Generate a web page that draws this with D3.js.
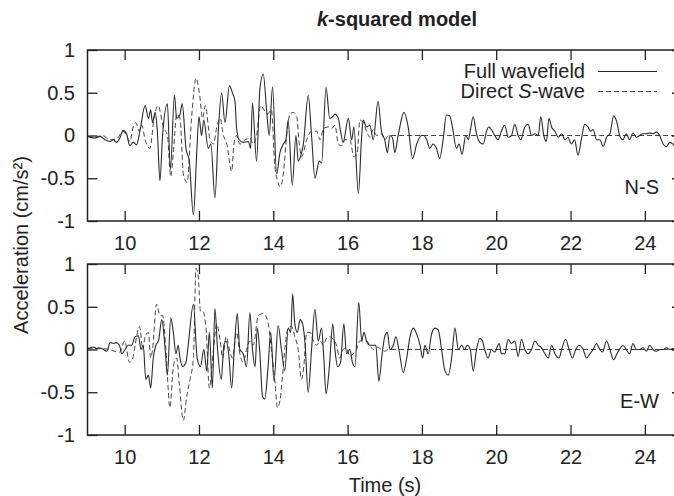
<!DOCTYPE html>
<html>
<head>
<meta charset="utf-8">
<script src="https://cdn.jsdelivr.net/npm/d3@7"></script>
<style>
  body { margin: 0; background: #fff; }
  text { font-family: "Liberation Sans", Arial, Helvetica, sans-serif; fill: #222; }
</style>
</head>
<body>
<svg id="chart"></svg>
<script>
// tick values and labels
var xTicks = [10, 12, 14, 16, 18, 20, 22, 24];
var yTicks = [-1, -0.5, 0, 0.5, 1];

// N-S component, [time (s), acceleration (cm/s2)]
var nsFull = [
  [9.0,-0.01],[9.07,-0.02],[9.2,-0.03],[9.34,-0.01],[9.47,-0.05],[9.61,-0.07],[9.7,-0.05],[9.78,-0.08],
  [9.87,-0.03],[9.96,0.06],[10.05,0.02],[10.14,-0.12],[10.23,-0.08],[10.32,-0.11],[10.41,0.05],[10.55,0.35],
  [10.64,0.2],[10.7,0.3],[10.75,0.15],[10.82,0.27],[10.88,0.05],[10.95,-0.53],[11.02,0.0],[11.15,0.37],
  [11.23,-0.4],[11.34,0.47],[11.4,0.2],[11.49,0.25],[11.55,0.37],[11.65,-0.15],[11.74,-0.3],[11.85,-0.93],
  [11.94,-0.2],[12.0,0.22],[12.07,0.0],[12.13,0.18],[12.25,-0.15],[12.32,-0.1],[12.43,-0.73],[12.52,0.05],
  [12.61,0.5],[12.7,0.15],[12.82,0.58],[12.9,0.5],[12.97,0.4],[13.01,0.1],[13.08,-0.05],[13.19,-0.08],
  [13.33,-0.07],[13.39,-0.15],[13.44,0.38],[13.55,-0.3],[13.64,0.55],[13.73,0.72],[13.82,0.3],[13.89,0.0],
  [13.98,0.57],[14.09,-0.45],[14.18,-0.2],[14.27,-0.1],[14.34,-0.05],[14.4,0.18],[14.51,-0.58],[14.61,0.0],
  [14.67,-0.3],[14.73,-0.25],[14.81,-0.1],[14.94,0.47],[15.03,0.0],[15.12,-0.5],[15.24,-0.3],[15.3,-0.32],
  [15.42,0.56],[15.52,0.2],[15.6,0.22],[15.66,0.25],[15.75,0.2],[15.81,0.05],[15.88,-0.08],[16.02,0.2],
  [16.11,-0.05],[16.17,0.1],[16.29,-0.68],[16.38,0.0],[16.42,0.18],[16.51,0.1],[16.6,0.12],[16.69,-0.05],
  [16.82,0.4],[16.91,0.05],[17.0,-0.05],[17.07,-0.2],[17.14,0.0],[17.21,-0.03],[17.27,-0.2],[17.36,0.0],
  [17.52,0.27],[17.63,0.1],[17.75,-0.27],[17.86,-0.1],[17.99,0.0],[18.05,0.0],[18.13,-0.05],[18.21,-0.15],
  [18.3,-0.1],[18.39,-0.15],[18.48,-0.27],[18.57,-0.05],[18.66,0.24],[18.75,0.23],[18.82,0.1],[18.93,-0.15],
  [19.0,-0.1],[19.08,-0.22],[19.18,0.0],[19.25,-0.05],[19.3,0.05],[19.38,0.22],[19.47,0.02],[19.56,-0.08],
  [19.65,-0.1],[19.74,0.05],[19.8,0.1],[19.87,0.07],[19.96,0.0],[20.05,-0.05],[20.14,0.05],[20.23,0.12],
  [20.32,-0.02],[20.41,0.0],[20.5,0.13],[20.59,0.0],[20.66,-0.05],[20.77,0.1],[20.86,0.13],[20.95,0.0],
  [21.04,0.02],[21.13,0.0],[21.2,0.22],[21.28,0.0],[21.35,-0.07],[21.42,0.2],[21.49,0.1],[21.58,0.05],
  [21.67,-0.02],[21.76,0.02],[21.85,-0.05],[21.93,-0.02],[22.02,-0.1],[22.11,-0.05],[22.2,-0.23],[22.29,-0.05],
  [22.38,0.13],[22.47,0.1],[22.54,0.05],[22.61,0.07],[22.7,-0.05],[22.79,-0.05],[22.88,-0.13],[22.97,-0.02],
  [23.06,0.02],[23.16,0.23],[23.25,0.15],[23.32,0.0],[23.41,-0.05],[23.5,0.02],[23.59,-0.05],[23.68,0.03],
  [23.77,-0.02],[23.86,0.0],[23.95,0.02],[24.04,0.02],[24.13,0.03],[24.22,0.02],[24.31,0.04],[24.4,0.0],
  [24.49,-0.1],[24.58,-0.13],[24.67,-0.08],[24.76,-0.1],[24.85,-0.15],[24.95,-0.05]
];
var nsDirect = [
  [9.0,-0.01],[9.2,-0.02],[9.4,0.0],[9.61,-0.05],[9.78,-0.04],[9.96,0.05],[10.05,0.0],[10.14,-0.07],
  [10.23,0.1],[10.3,0.15],[10.39,0.05],[10.46,0.12],[10.55,-0.05],[10.68,-0.15],[10.79,0.2],[10.9,0.35],
  [11.04,0.1],[11.15,0.0],[11.24,-0.48],[11.31,-0.2],[11.4,0.25],[11.49,0.2],[11.58,-0.45],[11.68,-0.55],
  [11.8,0.2],[11.92,0.67],[12.01,0.5],[12.1,0.2],[12.17,0.35],[12.3,-0.05],[12.39,-0.1],[12.48,0.1],
  [12.57,0.2],[12.66,0.0],[12.75,-0.1],[12.88,-0.42],[12.94,-0.1],[13.01,0.0],[13.1,-0.1],[13.24,-0.05],
  [13.37,-0.03],[13.46,-0.1],[13.55,0.0],[13.66,0.35],[13.75,0.3],[13.84,0.25],[13.95,0.3],[14.04,-0.35],
  [14.13,-0.55],[14.18,-0.6],[14.27,-0.45],[14.36,0.0],[14.45,0.25],[14.54,0.27],[14.63,0.22],[14.7,-0.1],
  [14.76,-0.25],[14.9,-0.05],[15.03,0.05],[15.17,0.05],[15.26,-0.05],[15.35,0.08],[15.48,0.1],[15.57,0.08],
  [15.66,0.12],[15.75,-0.1],[15.84,-0.12],[15.93,-0.05],[16.06,-0.05],[16.17,-0.25],[16.26,-0.2],[16.33,0.18],
  [16.42,0.15],[16.51,0.05],[16.6,-0.02],[16.69,0.07],[16.78,0.0],[16.91,0.02],[17.0,-0.05],[17.1,0.0],
  [25.0,0.0]
];

// E-W component
var ewFull = [
  [9.0,0.01],[9.16,0.03],[9.25,0.01],[9.29,0.02],[9.43,0.0],[9.52,-0.02],[9.61,0.08],[9.7,0.07],
  [9.77,0.08],[9.86,0.05],[9.92,-0.05],[10.01,0.0],[10.1,0.05],[10.19,0.05],[10.28,0.15],[10.37,0.16],
  [10.44,0.0],[10.5,0.05],[10.57,-0.35],[10.64,-0.3],[10.7,-0.45],[10.77,-0.1],[10.84,0.05],[10.91,0.1],
  [11.0,0.35],[11.09,0.0],[11.15,-0.3],[11.24,0.37],[11.31,0.2],[11.38,-0.05],[11.44,0.05],[11.49,-0.1],
  [11.56,-0.2],[11.65,-0.15],[11.71,0.05],[11.85,0.53],[11.95,-0.1],[12.04,-0.2],[12.13,0.0],[12.21,-0.25],
  [12.28,0.2],[12.36,-0.45],[12.43,0.48],[12.5,0.0],[12.6,-0.35],[12.67,0.05],[12.73,0.1],[12.8,-0.05],
  [12.88,-0.45],[12.95,0.0],[13.03,0.42],[13.1,0.0],[13.19,-0.05],[13.28,-0.2],[13.37,0.43],[13.44,0.0],
  [13.51,-0.2],[13.57,0.25],[13.64,-0.05],[13.71,-0.55],[13.77,-0.58],[13.86,-0.2],[13.93,0.2],[14.02,-0.37],
  [14.13,0.28],[14.22,0.0],[14.31,-0.25],[14.4,0.25],[14.47,0.2],[14.52,0.65],[14.58,0.3],[14.65,0.2],
  [14.72,0.35],[14.79,0.3],[14.85,0.1],[14.94,-0.5],[15.03,0.0],[15.12,0.47],[15.21,0.1],[15.3,0.25],
  [15.36,-0.1],[15.42,-0.52],[15.51,-0.2],[15.6,0.3],[15.66,0.0],[15.73,-0.2],[15.81,-0.15],[15.9,0.3],
  [15.97,-0.05],[16.06,0.0],[16.13,-0.15],[16.2,-0.2],[16.3,0.55],[16.38,0.1],[16.44,0.2],[16.51,0.1],
  [16.6,0.05],[16.69,0.05],[16.76,0.05],[16.84,-0.37],[16.93,-0.05],[17.0,0.15],[17.07,0.2],[17.14,0.0],
  [17.23,0.05],[17.3,0.15],[17.38,0.0],[17.5,-0.27],[17.59,-0.1],[17.68,0.15],[17.77,0.25],[17.86,0.18],
  [17.95,0.05],[18.02,-0.1],[18.08,0.05],[18.17,-0.05],[18.26,0.18],[18.35,0.25],[18.44,0.23],[18.53,0.0],
  [18.62,-0.25],[18.71,-0.3],[18.8,-0.1],[18.89,0.25],[18.98,0.0],[19.07,0.05],[19.15,0.0],[19.22,0.05],
  [19.3,0.0],[19.38,-0.25],[19.47,0.0],[19.56,0.13],[19.63,0.1],[19.69,0.0],[19.78,-0.1],[19.87,0.0],
  [19.96,-0.03],[20.08,0.07],[20.14,-0.05],[20.23,-0.05],[20.32,0.12],[20.41,0.07],[20.5,0.1],[20.59,-0.08],
  [20.68,0.12],[20.77,0.0],[20.86,-0.05],[20.95,0.0],[21.04,0.1],[21.13,0.05],[21.22,0.02],[21.31,-0.05],
  [21.4,-0.1],[21.49,0.05],[21.58,-0.05],[21.69,-0.1],[21.76,0.0],[21.87,0.12],[21.96,0.0],[22.05,-0.1],
  [22.14,0.0],[22.23,0.05],[22.34,0.0],[22.43,-0.1],[22.52,-0.05],[22.61,0.0],[22.7,0.07],[22.79,0.0],
  [22.86,-0.03],[22.97,0.1],[23.06,0.0],[23.16,-0.12],[23.25,-0.05],[23.32,0.0],[23.41,0.05],[23.5,0.0],
  [23.59,-0.05],[23.68,0.07],[23.77,0.0],[23.86,0.0],[23.95,0.02],[24.04,-0.02],[24.13,0.05],[24.22,0.0],
  [24.31,-0.02],[24.4,0.0],[24.49,0.0],[24.58,0.02],[24.67,0.0],[24.76,0.01],[24.9,0.02],[25.0,0.0]
];
var ewDirect = [
  [9.0,0.01],[9.3,0.01],[9.6,0.0],[9.72,-0.02],[9.87,-0.03],[10.0,0.1],[10.13,-0.15],[10.22,-0.1],
  [10.28,0.05],[10.4,0.27],[10.49,0.0],[10.55,0.15],[10.64,0.2],[10.7,-0.1],[10.75,0.0],[10.86,0.53],
  [10.95,0.4],[11.02,0.4],[11.11,0.0],[11.22,-0.68],[11.31,-0.2],[11.4,-0.1],[11.47,-0.4],[11.58,-0.83],
  [11.67,-0.55],[11.76,-0.35],[11.85,-0.1],[11.92,0.95],[11.98,0.85],[12.04,0.45],[12.1,0.45],[12.19,0.25],
  [12.28,-0.45],[12.39,0.0],[12.48,0.3],[12.57,0.1],[12.64,-0.1],[12.73,0.15],[12.82,0.0],[12.9,-0.1],
  [13.01,0.2],[13.1,-0.05],[13.19,-0.15],[13.28,0.0],[13.37,0.1],[13.46,0.05],[13.6,0.4],[13.73,0.42],
  [13.84,0.35],[13.95,0.0],[14.05,-0.4],[14.11,-0.68],[14.18,-0.6],[14.25,-0.3],[14.31,0.0],[14.4,0.25],
  [14.49,0.27],[14.58,0.15],[14.67,0.0],[14.76,-0.35],[14.82,-0.2],[14.9,0.2],[14.99,0.2],[15.08,0.1],
  [15.17,0.05],[15.26,0.1],[15.35,0.05],[15.43,0.13],[15.52,0.15],[15.61,0.12],[15.7,0.05],[15.79,-0.1],
  [15.88,0.0],[15.97,0.02],[16.06,-0.08],[16.15,-0.05],[16.24,0.0],[16.33,0.1],[16.42,0.1],[16.51,0.1],
  [16.6,0.05],[16.69,0.0],[16.78,0.03],[16.91,0.0],[17.0,-0.02],[17.1,0.0],[25.0,0.0]
];

// set the dimensions
var width = 674, height = 496;
var left = 87.5, right = 682;

var svg = d3.select("#chart")
    .attr("width", width)
    .attr("height", height);

svg.append("rect").attr("width", width).attr("height", height).attr("fill", "#fff");

var x = d3.scaleLinear().domain([9, 25]).range([left, right]);

var panels = [
  {name: "N-S", top: 50, bottom: 221, full: nsFull, direct: nsDirect},
  {name: "E-W", top: 264, bottom: 435, full: ewFull, direct: ewDirect}
];

panels.forEach(function(p, i) {
  var y = d3.scaleLinear().domain([-1, 1]).range([p.bottom, p.top]);
  var g = svg.append("g");

  // clip to the plot box
  g.append("clipPath").attr("id", "clip" + i)
    .append("rect")
      .attr("x", left).attr("y", p.top)
      .attr("width", right - left).attr("height", p.bottom - p.top);

  var line = d3.line()
      .x(function(d) { return x(d[0]); })
      .y(function(d) { return y(d[1]); })
      .curve(d3.curveMonotoneX);

  var traces = g.append("g").attr("clip-path", "url(#clip" + i + ")");
  traces.append("path")
      .datum(p.direct)
      .attr("fill", "none")
      .attr("stroke", "#444")
      .attr("stroke-width", 1)
      .attr("stroke-dasharray", "5,3")
      .attr("d", line);
  traces.append("path")
      .datum(p.full)
      .attr("fill", "none")
      .attr("stroke", "#2a2a2a")
      .attr("stroke-width", 1.1)
      .attr("d", line);

  // axes, ticks pointing inward (mirrored on all four sides)
  var bottomAxis = g.append("g")
      .attr("transform", "translate(0," + p.bottom + ")")
      .call(d3.axisBottom(x).tickValues(xTicks).tickSize(-10).tickPadding(15).tickFormat(d3.format("d")));
  var topAxis = g.append("g")
      .attr("transform", "translate(0," + p.top + ")")
      .call(d3.axisTop(x).tickValues(xTicks).tickSize(-10).tickFormat(""));
  var leftAxis = g.append("g")
      .attr("transform", "translate(" + left + ",0)")
      .call(d3.axisLeft(y).tickValues(yTicks).tickSize(-10).tickPadding(12.5)
        .tickFormat(function(d) { return d === 0 ? "0" : String(d); }));
  var rightAxis = g.append("g")
      .attr("transform", "translate(" + right + ",0)")
      .call(d3.axisRight(y).tickValues(yTicks).tickSize(-10).tickFormat(""));

  [bottomAxis, topAxis, leftAxis, rightAxis].forEach(function(a) {
    a.select(".domain").remove();
    a.selectAll(".tick line").attr("stroke", "#222").attr("stroke-width", 1.3);
    a.selectAll("text")
      .style("font-family", "'Liberation Sans', Arial, sans-serif")
      .style("font-size", "20px")
      .attr("fill", "#222");
  });

  // frame
  g.append("rect")
      .attr("x", left).attr("y", p.top)
      .attr("width", right - left).attr("height", p.bottom - p.top)
      .attr("fill", "none")
      .attr("stroke", "#222")
      .attr("stroke-width", 1.5);

  // component label
  g.append("text")
      .attr("x", 659).attr("y", p.bottom - 27)
      .attr("text-anchor", "end")
      .style("font-size", "20px")
      .text(p.name);
});

// legend (top panel)
var legend = svg.append("g");
legend.append("text")
    .attr("x", 585).attr("y", 78)
    .attr("text-anchor", "end")
    .style("font-size", "20px")
    .text("Full wavefield");
var t2 = legend.append("text")
    .attr("x", 585).attr("y", 98)
    .attr("text-anchor", "end")
    .style("font-size", "20px");
t2.append("tspan").text("Direct ");
t2.append("tspan").style("font-style", "italic").text("S");
t2.append("tspan").text("-wave");
legend.append("line")
    .attr("x1", 598).attr("x2", 657).attr("y1", 71.5).attr("y2", 71.5)
    .attr("stroke", "#2a2a2a").attr("stroke-width", 1.1);
legend.append("line")
    .attr("x1", 598).attr("x2", 657).attr("y1", 91.5).attr("y2", 91.5)
    .attr("stroke", "#444").attr("stroke-width", 1).attr("stroke-dasharray", "5,3");

// title
var title = svg.append("text")
    .attr("x", 397).attr("y", 26)
    .attr("text-anchor", "middle")
    .style("font-size", "20px")
    .style("font-weight", "bold");
title.append("tspan").style("font-style", "italic").text("k");
title.append("tspan").text("-squared model");

// axis titles
svg.append("text")
    .attr("x", 385).attr("y", 492)
    .attr("text-anchor", "middle")
    .style("font-size", "20px")
    .text("Time (s)");
svg.append("text")
    .attr("transform", "translate(28,245) rotate(-90)")
    .attr("text-anchor", "middle")
    .style("font-size", "20px")
    .text("Acceleration (cm/s\u00b2)");
</script>
</body>
</html>
